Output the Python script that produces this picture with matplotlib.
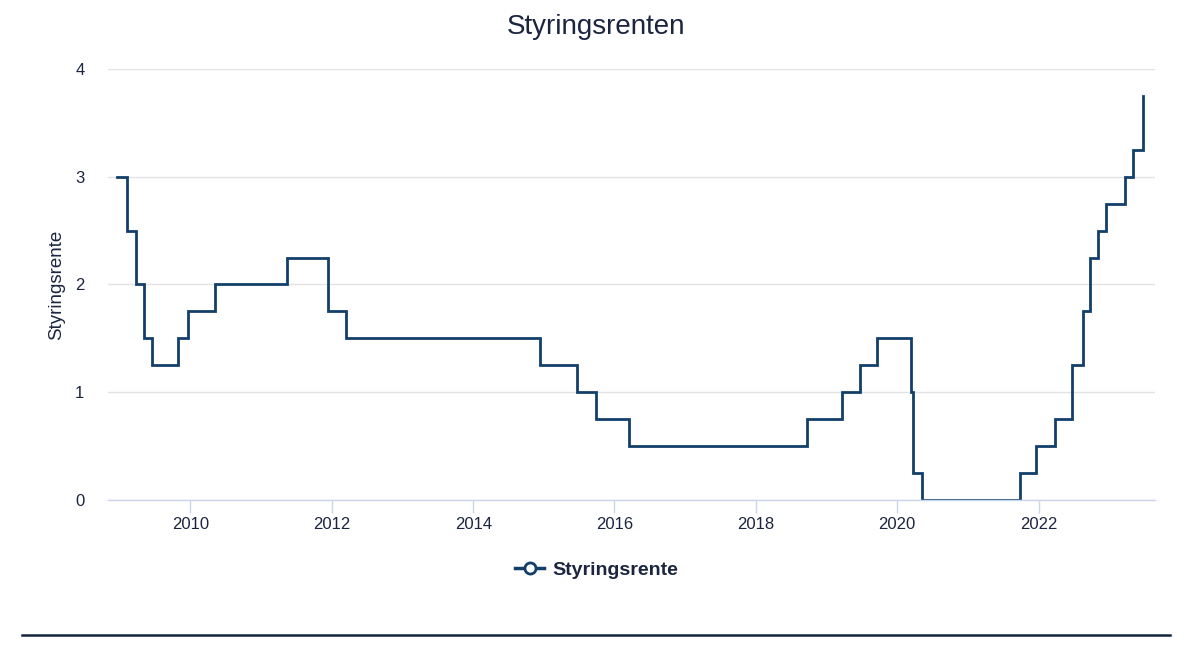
import numpy as np
import pandas as pd
import matplotlib
matplotlib.use("Agg")
import matplotlib.pyplot as plt
import matplotlib.dates as mdates
from matplotlib.lines import Line2D

plt.rcParams['font.family'] = ['Liberation Sans', 'DejaVu Sans']

# Styringsrenten - rentemøtedatoer og ny rente
datoer = ['2008-12-18', '2009-02-05', '2009-03-26', '2009-05-07', '2009-06-18',
          '2009-10-29', '2009-12-17', '2010-05-06', '2011-05-13', '2011-12-15',
          '2012-03-15', '2014-12-12', '2015-06-19', '2015-09-25', '2016-03-18',
          '2018-09-21', '2019-03-22', '2019-06-21', '2019-09-20', '2020-03-13',
          '2020-03-20', '2020-05-08', '2021-09-24', '2021-12-17', '2022-03-25',
          '2022-06-24', '2022-08-19', '2022-09-23', '2022-11-04', '2022-12-16',
          '2023-03-24', '2023-05-05', '2023-06-23']
rente = [3.0, 2.5, 2.0, 1.5, 1.25,
         1.5, 1.75, 2.0, 2.25, 1.75,
         1.5, 1.25, 1.0, 0.75, 0.5,
         0.75, 1.0, 1.25, 1.5, 1.0,
         0.25, 0.0, 0.25, 0.5, 0.75,
         1.25, 1.75, 2.25, 2.5, 2.75,
         3.0, 3.25, 3.75]
y_ticks = [0, 1, 2, 3, 4]
x_tick_years = [2010, 2012, 2014, 2016, 2018, 2020, 2022]

navy = '#13406a'
text_col = '#1b2540'

x = pd.to_datetime(datoer)

fig = plt.figure(figsize=(12, 6.55), dpi=100)
ax = fig.add_axes([0.09, 0.2366, 0.8725, 0.6581])

ax.step(x, rente, where='post', color=navy, linewidth=2.0, solid_joinstyle='miter')

ax.set_xlim(pd.Timestamp('2008-11-01'), pd.Timestamp('2023-08-25'))
ax.set_ylim(0, 4)
ax.set_yticks(y_ticks)
ax.set_xticks([pd.Timestamp(f'{y}-01-01') for y in x_tick_years])
ax.xaxis.set_major_formatter(mdates.DateFormatter('%Y'))

ax.grid(axis='y', color='#e3e3e3', linewidth=1)
ax.set_axisbelow(True)
for s in ['top', 'right', 'left']:
    ax.spines[s].set_visible(False)
ax.spines['bottom'].set_color('#ccd6eb')
ax.spines['bottom'].set_linewidth(1)

ax.tick_params(axis='y', length=0, pad=17, labelsize=12, labelcolor=text_col)
ax.tick_params(axis='x', length=9, color='#ccd6eb', width=1, pad=3,
               labelsize=12, labelcolor=text_col)

ax.set_ylabel('Styringsrente', fontsize=13.5, color=text_col, labelpad=7)
fig.suptitle('Styringsrenten', x=0.497, y=1 - 27 / 655, va='center',
             fontsize=20, color=text_col)

handle = Line2D([], [], color=navy, linewidth=2.5, marker='o', markersize=8,
                markerfacecolor='white', markeredgecolor=navy, markeredgewidth=2)
leg = fig.legend([handle], ['Styringsrente'], loc='center', bbox_to_anchor=(0.497, 1 - 570 / 655),
                 frameon=False, handlelength=1.5, handletextpad=0.4,
                 prop={'weight': 'bold', 'size': 14})
for t in leg.get_texts():
    t.set_color(text_col)

fig.add_artist(Line2D([22 / 1200, 1170 / 1200], [1 - 635 / 655, 1 - 635 / 655],
                      color='#14243d', linewidth=1.8, transform=fig.transFigure))

fig.savefig('out.png', dpi=100, facecolor='white')
